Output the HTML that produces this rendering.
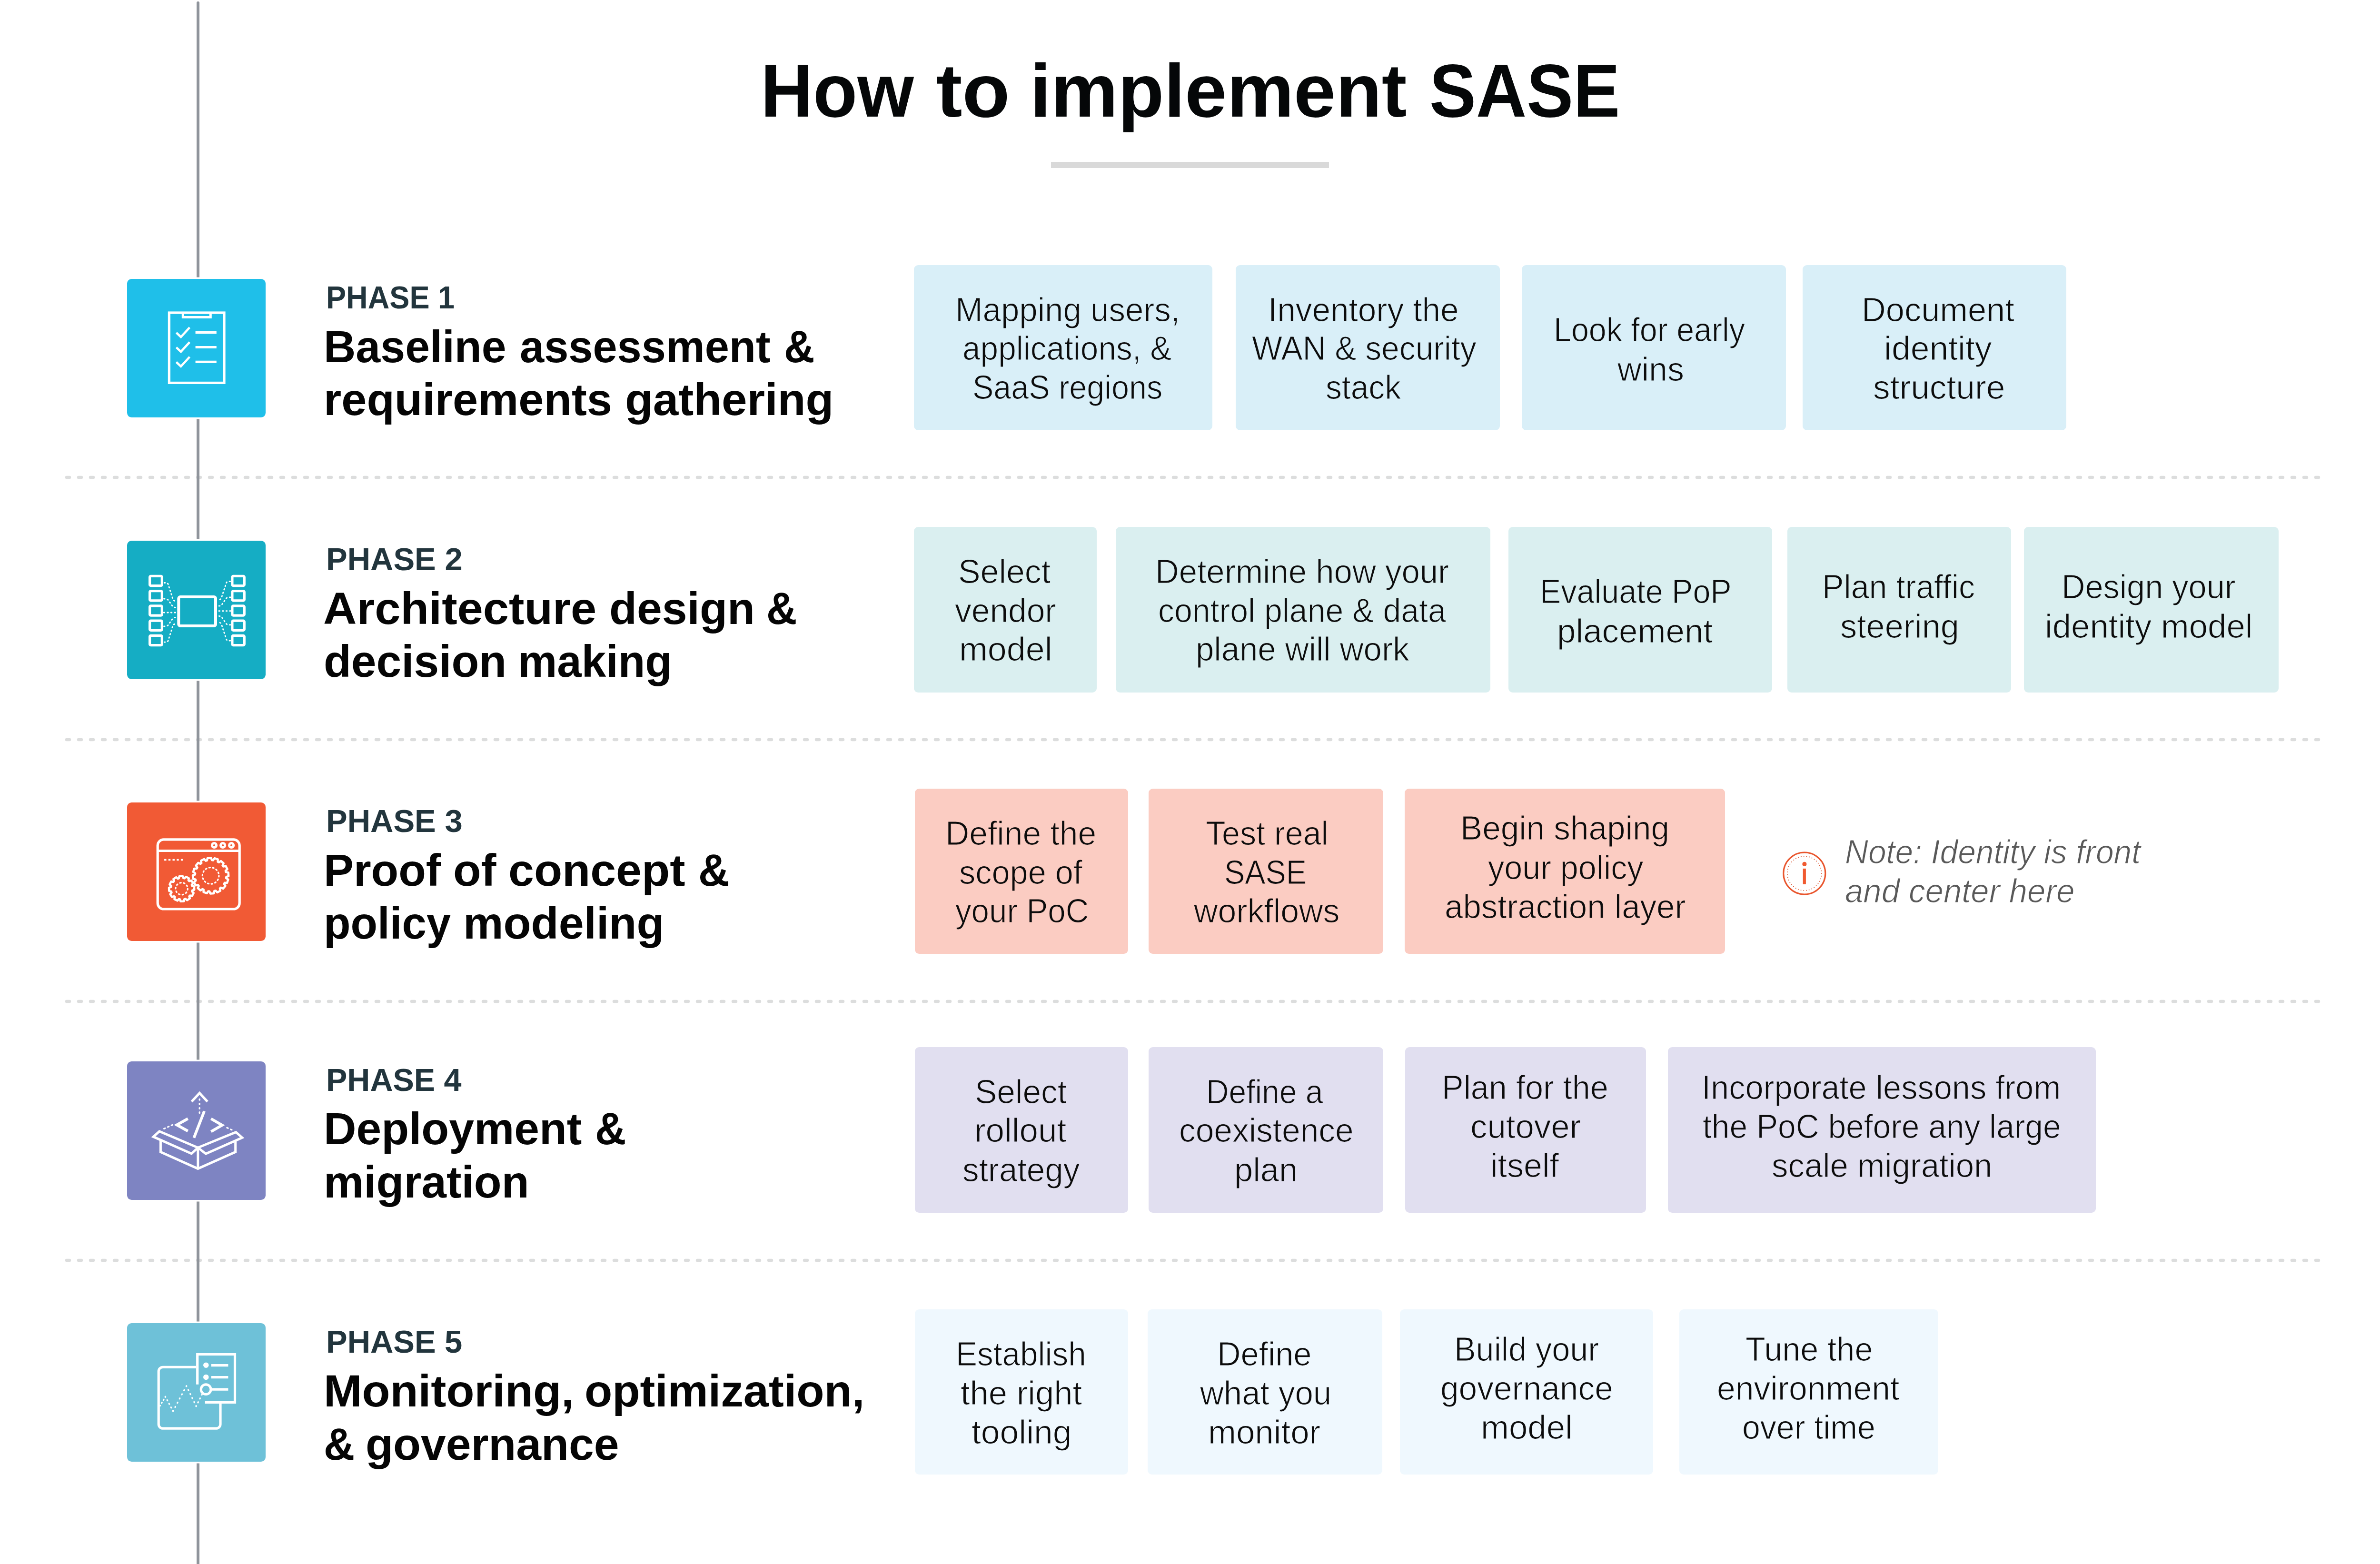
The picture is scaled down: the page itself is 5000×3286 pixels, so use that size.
<!DOCTYPE html><html lang="en"><head><meta charset="utf-8"><title>How to implement SASE</title>
<style>
html,body{margin:0;padding:0;background:#fff}body{width:5000px;height:3286px;position:relative;overflow:hidden;font-family:"Liberation Sans", sans-serif}
.t{position:absolute;white-space:nowrap;line-height:1;margin:0;font-kerning:normal;transform-origin:0 0}
.vl{position:absolute;left:413.3px;width:5.8px;background:#8f949b}
.box{position:absolute;left:266.5px;width:291.2px;height:291.2px;border-radius:9.5px;box-shadow:0 0 0 3.5px #fff}
.card{position:absolute;border-radius:9px}
.sep{position:absolute;left:0;width:5000px;height:12px}
svg{position:absolute;overflow:visible}
.title{font-size:157.5px;font-weight:bold;font-style:normal;color:#050708}
.phase{font-size:67.2px;font-weight:bold;font-style:normal;color:#22353d}
.head{font-size:93.8px;font-weight:bold;font-style:normal;color:#050505}
.ct{font-size:70.2px;font-weight:normal;font-style:normal;color:#0c0c0c}
.note{font-size:70.2px;font-weight:normal;font-style:italic;color:#595959}
</style></head><body>
<svg class="sep" style="top:997px" width="5000" height="12" viewBox="0 0 5000 12"><line x1="140" y1="6" x2="4871.5" y2="6" stroke="#dcdddd" stroke-width="6.4" stroke-linecap="round" stroke-dasharray="6 19"/></svg>
<svg class="sep" style="top:1548px" width="5000" height="12" viewBox="0 0 5000 12"><line x1="140" y1="6" x2="4871.5" y2="6" stroke="#dcdddd" stroke-width="6.4" stroke-linecap="round" stroke-dasharray="6 19"/></svg>
<svg class="sep" style="top:2098.4px" width="5000" height="12" viewBox="0 0 5000 12"><line x1="140" y1="6" x2="4871.5" y2="6" stroke="#dcdddd" stroke-width="6.4" stroke-linecap="round" stroke-dasharray="6 19"/></svg>
<svg class="sep" style="top:2641.6px" width="5000" height="12" viewBox="0 0 5000 12"><line x1="140" y1="6" x2="4871.5" y2="6" stroke="#dcdddd" stroke-width="6.4" stroke-linecap="round" stroke-dasharray="6 19"/></svg>
<div class="vl" style="top:3px;height:3283px;border-radius:3px 3px 0 0"></div>
<div style="position:absolute;left:2208px;top:340px;width:584px;height:12.5px;background:#d9d9d9"></div>
<div class="box" style="top:585.8px;background:#1fbfe9"><svg style="left:0.5px;top:0" width="291" height="291" viewBox="0 0 291 291" fill="none" stroke="#fff"><rect x="88.4" y="71" width="115.6" height="147.4" stroke-width="5.2"/><path d="M117.3 70 V80.6 H175.3 V70" stroke-width="5"/><path d="M103.4 113.0 L113.0 122.0 L131.4 102.0" stroke-width="4.6"/><path d="M143.6 112.6 H187.8" stroke-width="5.2"/><path d="M103.4 143.9 L113.0 152.9 L131.4 132.9" stroke-width="4.6"/><path d="M143.6 143.5 H187.8" stroke-width="5.2"/><path d="M103.4 174.8 L113.0 183.8 L131.4 163.8" stroke-width="4.6"/><path d="M143.6 174.4 H187.8" stroke-width="5.2"/></svg></div>
<div class="box" style="top:1135.8px;background:#15adc4"><svg style="left:0.5px;top:0" width="291" height="291" viewBox="0 0 291 291" fill="none" stroke="#fff"><rect x="47.6" y="74.40" width="25.7" height="20.2" rx="2.2" stroke-width="5.2"/><rect x="220.9" y="74.40" width="25.4" height="20.2" rx="2.2" stroke-width="5.2"/><rect x="47.6" y="105.65" width="25.7" height="20.2" rx="2.2" stroke-width="5.2"/><rect x="220.9" y="105.65" width="25.4" height="20.2" rx="2.2" stroke-width="5.2"/><rect x="47.6" y="136.90" width="25.7" height="20.2" rx="2.2" stroke-width="5.2"/><rect x="220.9" y="136.90" width="25.4" height="20.2" rx="2.2" stroke-width="5.2"/><rect x="47.6" y="168.15" width="25.7" height="20.2" rx="2.2" stroke-width="5.2"/><rect x="220.9" y="168.15" width="25.4" height="20.2" rx="2.2" stroke-width="5.2"/><rect x="47.6" y="199.40" width="25.7" height="20.2" rx="2.2" stroke-width="5.2"/><rect x="220.9" y="199.40" width="25.4" height="20.2" rx="2.2" stroke-width="5.2"/><rect x="108.3" y="118.1" width="77.7" height="60.8" rx="3.4" stroke-width="6"/><path d="M78.1 88.5 H81.30 Q85.30 88.50 86.51 92.31 L96.19 122.69 Q97.40 126.50 101.40 126.50 H103 M77.4 122.2 H80.60 Q84.60 122.20 86.90 125.47 L95.10 137.13 Q97.40 140.40 101.40 140.40 H103 M77 151 H103 M77.4 179.8 H80.60 Q84.60 179.80 86.88 176.51 L95.12 164.59 Q97.40 161.30 101.40 161.30 H103 M78.1 213.1 H81.30 Q85.30 213.10 86.51 209.29 L96.19 178.91 Q97.40 175.10 101.40 175.10 H103 M216.7 85.5 H213.50 Q209.50 85.50 208.25 89.30 L198.25 119.80 Q197.00 123.60 193.00 123.60 H191.4 M217 118.9 H213.80 Q209.80 118.90 207.51 122.18 L199.29 133.92 Q197.00 137.20 193.00 137.20 H191.4 M217.4 147.7 H191.4 M217 176.8 H213.80 Q209.80 176.80 207.52 173.51 L199.28 161.59 Q197.00 158.30 193.00 158.30 H191.4 M216.7 210.2 H213.50 Q209.50 210.20 208.26 206.40 L198.24 175.70 Q197.00 171.90 193.00 171.90 H191.4" stroke-width="2.8" stroke-linecap="round" stroke-dasharray="1.7 5.9"/></svg></div>
<div class="box" style="top:1685.8px;background:#f15a35"><svg style="left:0.5px;top:0" width="291" height="291" viewBox="0 0 291 291" fill="none" stroke="#fff"><rect x="64.2" y="77.9" width="172" height="146.1" rx="12.5" stroke-width="5.2"/><path d="M64.2 101.5 H236.2" stroke-width="5.2"/><circle cx="183" cy="90" r="4.6" stroke-width="5"/><circle cx="201.1" cy="90" r="4.6" stroke-width="5"/><circle cx="219.1" cy="90" r="4.6" stroke-width="5"/><path d="M78.1 120.5 H117.3" stroke-width="3.4" stroke-dasharray="4.4 4.3"/><path d="M167.87 121.92 L168.94 116.90 L176.28 116.31 L178.13 121.10 L180.70 121.40 L183.60 117.16 L190.62 119.43 L190.49 124.56 L192.75 125.82 L197.05 123.02 L202.67 127.80 L200.59 132.50 L202.19 134.52 L207.24 133.58 L210.59 140.14 L206.87 143.69 L207.58 146.17 L212.60 147.24 L213.19 154.58 L208.40 156.43 L208.10 159.00 L212.34 161.90 L210.07 168.92 L204.94 168.79 L203.68 171.05 L206.48 175.35 L201.70 180.97 L197.00 178.89 L194.98 180.49 L195.92 185.54 L189.36 188.89 L185.81 185.17 L183.33 185.88 L182.26 190.90 L174.92 191.49 L173.07 186.70 L170.50 186.40 L167.60 190.64 L160.58 188.37 L160.71 183.24 L158.45 181.98 L154.15 184.78 L148.53 180.00 L150.61 175.30 L149.01 173.28 L143.96 174.22 L140.61 167.66 L144.33 164.11 L143.62 161.63 L138.60 160.56 L138.01 153.22 L142.80 151.37 L143.10 148.80 L138.86 145.90 L141.13 138.88 L146.26 139.01 L147.52 136.75 L144.72 132.45 L149.50 126.83 L154.20 128.91 L156.22 127.31 L155.28 122.26 L161.84 118.91 L165.39 122.63Z" stroke-width="4.5" stroke-linejoin="round"/><circle cx="175.6" cy="153.9" r="17.3" stroke-width="3.2" stroke-linecap="round" stroke-dasharray="2.2 5.56"/><path d="M108.80 159.36 L109.80 154.94 L116.76 154.59 L118.19 158.89 L120.50 159.38 L123.57 156.05 L129.77 159.23 L128.86 163.67 L130.62 165.26 L134.94 163.91 L138.73 169.76 L135.72 173.15 L136.44 175.40 L140.86 176.40 L141.21 183.36 L136.91 184.79 L136.42 187.10 L139.75 190.17 L136.57 196.37 L132.13 195.46 L130.54 197.22 L131.89 201.54 L126.04 205.33 L122.65 202.32 L120.40 203.04 L119.40 207.46 L112.44 207.81 L111.01 203.51 L108.70 203.02 L105.63 206.35 L99.43 203.17 L100.34 198.73 L98.58 197.14 L94.26 198.49 L90.47 192.64 L93.48 189.25 L92.76 187.00 L88.34 186.00 L87.99 179.04 L92.29 177.61 L92.78 175.30 L89.45 172.23 L92.63 166.03 L97.07 166.94 L98.66 165.18 L97.31 160.86 L103.16 157.07 L106.55 160.08Z" stroke-width="4.5" stroke-linejoin="round"/><circle cx="114.6" cy="181.2" r="12.7" stroke-width="3.2" stroke-linecap="round" stroke-dasharray="2.2 5.78"/></svg></div>
<div class="box" style="top:2229.7px;background:#7e84c2"><svg style="left:0.5px;top:0" width="291" height="291" viewBox="0 0 291 291" fill="none" stroke="#fff"><path d="M135.6 84.4 L152.2 66.6 L168.8 84.4" stroke-width="5.2"/><path d="M152.2 79.5 V110" stroke-width="3.4" stroke-linecap="round" stroke-dasharray="1.6 7.5"/><path d="M127.7 120.4 L104.4 133.4 L127.7 146.4" stroke-width="5.8"/><path d="M176.4 120.4 L199.7 133.9 L176.4 147.4" stroke-width="5.8"/><path d="M162.2 104.5 L140.4 160.6" stroke-width="5.8"/><path d="M95.6 133.3 L75 142.6" stroke-width="3.2" stroke-linecap="round" stroke-dasharray="2.6 6"/><path d="M209.8 139.3 L222 144.8" stroke-width="3.2" stroke-linecap="round" stroke-dasharray="2.6 6"/><path d="M148.8 181.2 L67.8 147 L55.2 158.4 L135.3 193.9 Z" stroke-width="5" stroke-linejoin="miter"/><path d="M148.8 181.2 L228.6 148.6 L241.8 160.2 L165.4 194.1 Z" stroke-width="5" stroke-linejoin="miter"/><path d="M70.4 166 V190.3 L148.8 225.4 L227.7 190.3 V166.5" stroke-width="5" stroke-linejoin="miter"/><path d="M148.8 181 V225.4" stroke-width="5"/></svg></div>
<div class="box" style="top:2779.9px;background:#6ec1d8"><svg style="left:0.5px;top:0" width="291" height="291" viewBox="0 0 291 291" fill="none" stroke="#fff"><path d="M145.1 92.3 H75.2 A9 9 0 0 0 66.2 101.3 V212.2 A9 9 0 0 0 75.2 221.2 H187 A9 9 0 0 0 196 212.2 V168.5" stroke-width="5.2"/><path d="M147.7 128.8 V65.5 H226.5 V166.5 H163.7" stroke-width="5.2"/><circle cx="165.8" cy="88.2" r="5.75" fill="#fff" stroke="none"/><circle cx="165.8" cy="113.4" r="5.75" fill="#fff" stroke="none"/><circle cx="165.6" cy="139.2" r="10.35" stroke-width="5.1"/><path d="M176.7 88.6 H212.4 M176.7 113.6 H212.4 M176 139.2 H212.4" stroke-width="5.2"/><path d="M69.1 173.7 L80.4 154.5" stroke-width="3.2" stroke-linecap="round" stroke-dasharray="1.3 6.126" stroke-dashoffset="0.65"/><path d="M80.4 154.5 L96.5 184.7" stroke-width="3.2" stroke-linecap="round" stroke-dasharray="1.3 7.256" stroke-dashoffset="0.65"/><path d="M96.5 184.7 L124.6 131.9" stroke-width="3.2" stroke-linecap="round" stroke-dasharray="1.3 8.669" stroke-dashoffset="0.65"/><path d="M124.6 131.9 L145.1 174.5" stroke-width="3.2" stroke-linecap="round" stroke-dasharray="1.3 8.155" stroke-dashoffset="0.65"/><path d="M145.1 174.5 L157.2 150.1" stroke-width="3.2" stroke-linecap="round" stroke-dasharray="1.3 7.778" stroke-dashoffset="0.65"/></svg></div>
<div class="card" style="left:1920px;top:557px;width:627px;height:347px;background:#d9eff8"></div>
<div class="card" style="left:2596px;top:557px;width:555px;height:347px;background:#d9eff8"></div>
<div class="card" style="left:3197px;top:557px;width:555px;height:347px;background:#d9eff8"></div>
<div class="card" style="left:3787px;top:557px;width:554px;height:347px;background:#d9eff8"></div>
<div class="card" style="left:1920px;top:1107px;width:384px;height:347.5px;background:#daeff0"></div>
<div class="card" style="left:2344px;top:1107px;width:787px;height:347.5px;background:#daeff0"></div>
<div class="card" style="left:3168.5px;top:1107px;width:554.0px;height:347.5px;background:#daeff0"></div>
<div class="card" style="left:3755px;top:1107px;width:469.5px;height:347.5px;background:#daeff0"></div>
<div class="card" style="left:4252px;top:1107px;width:534.5px;height:347.5px;background:#daeff0"></div>
<div class="card" style="left:1921.5px;top:1656.5px;width:448.5px;height:347.5px;background:#fbccc2"></div>
<div class="card" style="left:2413px;top:1656.5px;width:493px;height:347.5px;background:#fbccc2"></div>
<div class="card" style="left:2951px;top:1656.5px;width:673px;height:347.5px;background:#fbccc2"></div>
<div class="card" style="left:1922px;top:2200.3px;width:448px;height:347.6999999999998px;background:#e1dff0"></div>
<div class="card" style="left:2413px;top:2200.3px;width:493px;height:347.6999999999998px;background:#e1dff0"></div>
<div class="card" style="left:2951.8px;top:2200.3px;width:506.1999999999998px;height:347.6999999999998px;background:#e1dff0"></div>
<div class="card" style="left:3504.4px;top:2200.3px;width:898.5999999999999px;height:347.6999999999998px;background:#e1dff0"></div>
<div class="card" style="left:1922px;top:2750.6px;width:448px;height:347.7000000000003px;background:#eff8fe"></div>
<div class="card" style="left:2410.5px;top:2750.6px;width:493.0px;height:347.7000000000003px;background:#eff8fe"></div>
<div class="card" style="left:2941px;top:2750.6px;width:532px;height:347.7000000000003px;background:#eff8fe"></div>
<div class="card" style="left:3528px;top:2750.6px;width:544px;height:347.7000000000003px;background:#eff8fe"></div>
<svg style="left:3740px;top:1784px" width="102" height="102" viewBox="0 0 102 102"><circle cx="50.8" cy="51" r="44" fill="none" stroke="#e9562e" stroke-width="3.1"/><circle cx="50.8" cy="51" r="36" fill="none" stroke="#d9532f" stroke-width="1.9" stroke-dasharray="0.01 5.79" stroke-linecap="round"/><circle cx="50.9" cy="31.4" r="4.6" fill="#f05a30"/><rect x="47.7" y="40.9" width="6.2" height="32.8" fill="#f05a30"/></svg>
<div class="title">
<span class="t" style="left:1597.92px;top:112.30px;transform:scaleX(0.9680)">How</span> 
<span class="t" style="left:1966.96px;top:112.30px;transform:scaleX(1.0390)">to</span> 
<span class="t" style="left:2163.75px;top:112.30px;transform:scaleX(1.0049)">implement</span> 
<span class="t" style="left:3002.97px;top:112.30px;transform:scaleX(0.9330)">SASE</span>
</div>
<div class="t phase" style="left:684.74px;top:591.20px;transform:scaleX(0.9396)">PHASE 1</div>
<div class="head">
<span class="t" style="left:680.43px;top:681.70px;transform:scaleX(0.9946)">Baseline</span> 
<span class="t" style="left:1091.94px;top:681.70px;transform:scaleX(0.9805)">assessment</span> 
<span class="t" style="left:1647.20px;top:681.70px;transform:scaleX(0.9508)">&amp;</span>
</div>
<div class="head">
<span class="t" style="left:680.28px;top:793.40px;transform:scaleX(1.0197)">requirements</span> 
<span class="t" style="left:1312.62px;top:793.40px;transform:scaleX(1.0255)">gathering</span>
</div>
<div class="t phase" style="left:684.51px;top:1141.20px;transform:scaleX(0.9970)">PHASE 2</div>
<div class="head">
<span class="t" style="left:679.32px;top:1231.70px;transform:scaleX(1.0392)">Architecture</span> 
<span class="t" style="left:1279.96px;top:1231.70px;transform:scaleX(1.0120)">design</span> 
<span class="t" style="left:1609.50px;top:1231.70px;transform:scaleX(0.9508)">&amp;</span>
</div>
<div class="head">
<span class="t" style="left:679.87px;top:1343.40px;transform:scaleX(1.0094)">decision</span> 
<span class="t" style="left:1087.98px;top:1343.40px;transform:scaleX(0.9859)">making</span>
</div>
<div class="t phase" style="left:684.51px;top:1691.20px;transform:scaleX(0.9970)">PHASE 3</div>
<div class="head">
<span class="t" style="left:680.37px;top:1781.70px;transform:scaleX(1.0056)">Proof</span> 
<span class="t" style="left:952.13px;top:1781.70px;transform:scaleX(1.0221)">of</span> 
<span class="t" style="left:1068.10px;top:1781.70px;transform:scaleX(1.0329)">concept</span> 
<span class="t" style="left:1467.13px;top:1781.70px;transform:scaleX(0.9672)">&amp;</span>
</div>
<div class="head">
<span class="t" style="left:680.48px;top:1893.40px;transform:scaleX(0.9861)">policy</span> 
<span class="t" style="left:972.82px;top:1893.40px;transform:scaleX(1.0134)">modeling</span>
</div>
<div class="t phase" style="left:684.54px;top:2234.90px;transform:scaleX(0.9899)">PHASE 4</div>
<div class="head">
<span class="t" style="left:680.34px;top:2325.40px;transform:scaleX(1.0104)">Deployment</span> 
<span class="t" style="left:1250.33px;top:2325.40px;transform:scaleX(0.9672)">&amp;</span>
</div>
<div class="head">
<span class="t" style="left:680.34px;top:2437.10px;transform:scaleX(1.0098)">migration</span>
</div>
<div class="t phase" style="left:684.52px;top:2785.30px;transform:scaleX(0.9959)">PHASE 5</div>
<div class="head">
<span class="t" style="left:680.22px;top:2875.80px;transform:scaleX(1.0300)">Monitoring,</span> 
<span class="t" style="left:1227.95px;top:2875.80px;transform:scaleX(1.0171)">optimization,</span>
</div>
<div class="head">
<span class="t" style="left:680.05px;top:2987.50px;transform:scaleX(0.9623)">&amp;</span> 
<span class="t" style="left:767.87px;top:2987.50px;transform:scaleX(1.0113)">governance</span>
</div>
<div class="t ct" style="left:2007.18px;top:615.60px;transform:scaleX(0.9837);-webkit-text-stroke:1.2px #d9eff8">Mapping users,</div>
<div class="t ct" style="left:2022.18px;top:697.00px;transform:scaleX(0.9624);-webkit-text-stroke:1.2px #d9eff8">applications, &amp;</div>
<div class="t ct" style="left:2043.16px;top:778.50px;transform:scaleX(0.9476);-webkit-text-stroke:1.2px #d9eff8">SaaS regions</div>
<div class="t ct" style="left:2663.88px;top:615.60px;transform:scaleX(0.9873);-webkit-text-stroke:1.2px #d9eff8">Inventory the</div>
<div class="t ct" style="left:2630.40px;top:697.00px;transform:scaleX(0.9648);-webkit-text-stroke:1.2px #d9eff8">WAN &amp; security</div>
<div class="t ct" style="left:2785.13px;top:778.50px;transform:scaleX(0.9650);-webkit-text-stroke:1.2px #d9eff8">stack</div>
<div class="t ct" style="left:3263.97px;top:657.60px;transform:scaleX(0.9454);-webkit-text-stroke:1.2px #d9eff8">Look for early</div>
<div class="t ct" style="left:3398.10px;top:740.70px;transform:scaleX(0.9963);-webkit-text-stroke:1.2px #d9eff8">wins</div>
<div class="t ct" style="left:3910.99px;top:615.60px;transform:scaleX(1.0029);-webkit-text-stroke:1.2px #d9eff8">Document</div>
<div class="t ct" style="left:3958.32px;top:697.00px;transform:scaleX(1.0188);-webkit-text-stroke:1.2px #d9eff8">identity</div>
<div class="t ct" style="left:3935.18px;top:778.50px;transform:scaleX(1.0156);-webkit-text-stroke:1.2px #d9eff8">structure</div>
<div class="t ct" style="left:2013.01px;top:1165.60px;transform:scaleX(0.9955);-webkit-text-stroke:1.2px #daeff0">Select</div>
<div class="t ct" style="left:2006.10px;top:1247.50px;transform:scaleX(0.9900);-webkit-text-stroke:1.2px #daeff0">vendor</div>
<div class="t ct" style="left:2014.61px;top:1329.40px;transform:scaleX(1.0237);-webkit-text-stroke:1.2px #daeff0">model</div>
<div class="t ct" style="left:2427.29px;top:1165.60px;transform:scaleX(0.9825);-webkit-text-stroke:1.2px #daeff0">Determine how your</div>
<div class="t ct" style="left:2432.96px;top:1247.50px;transform:scaleX(0.9686);-webkit-text-stroke:1.2px #daeff0">control plane &amp; data</div>
<div class="t ct" style="left:2511.77px;top:1329.40px;transform:scaleX(0.9824);-webkit-text-stroke:1.2px #daeff0">plane will work</div>
<div class="t ct" style="left:3234.57px;top:1207.60px;transform:scaleX(0.9468);-webkit-text-stroke:1.2px #daeff0">Evaluate PoP</div>
<div class="t ct" style="left:3270.86px;top:1290.80px;transform:scaleX(1.0102);-webkit-text-stroke:1.2px #daeff0">placement</div>
<div class="t ct" style="left:3828.14px;top:1197.80px;transform:scaleX(0.9719);-webkit-text-stroke:1.2px #daeff0">Plan traffic</div>
<div class="t ct" style="left:3866.10px;top:1281.00px;transform:scaleX(1.0001);-webkit-text-stroke:1.2px #daeff0">steering</div>
<div class="t ct" style="left:4331.12px;top:1197.80px;transform:scaleX(0.9763);-webkit-text-stroke:1.2px #daeff0">Design your</div>
<div class="t ct" style="left:4296.37px;top:1281.00px;transform:scaleX(1.0079);-webkit-text-stroke:1.2px #daeff0">identity model</div>
<div class="t ct" style="left:1986.35px;top:1716.00px;transform:scaleX(0.9910);-webkit-text-stroke:1.2px #fbccc2">Define the</div>
<div class="t ct" style="left:2014.52px;top:1797.70px;transform:scaleX(0.9757);-webkit-text-stroke:1.2px #fbccc2">scope of</div>
<div class="t ct" style="left:2006.50px;top:1878.60px;transform:scaleX(0.9581);-webkit-text-stroke:1.2px #fbccc2">your PoC</div>
<div class="t ct" style="left:2532.63px;top:1716.00px;transform:scaleX(0.9716);-webkit-text-stroke:1.2px #fbccc2">Test real</div>
<div class="t ct" style="left:2572.43px;top:1797.70px;transform:scaleX(0.9237);-webkit-text-stroke:1.2px #fbccc2">SASE</div>
<div class="t ct" style="left:2508.09px;top:1878.60px;transform:scaleX(0.9944);-webkit-text-stroke:1.2px #fbccc2">workflows</div>
<div class="t ct" style="left:3067.97px;top:1704.70px;transform:scaleX(0.9866);-webkit-text-stroke:1.2px #fbccc2">Begin shaping</div>
<div class="t ct" style="left:3125.80px;top:1787.90px;transform:scaleX(0.9732);-webkit-text-stroke:1.2px #fbccc2">your policy</div>
<div class="t ct" style="left:3034.63px;top:1869.60px;transform:scaleX(0.9834);-webkit-text-stroke:1.2px #fbccc2">abstraction layer</div>
<div class="t ct" style="left:2048.43px;top:2258.50px;transform:scaleX(0.9902);-webkit-text-stroke:1.2px #e1dff0">Select</div>
<div class="t ct" style="left:2047.36px;top:2340.40px;transform:scaleX(1.0104);-webkit-text-stroke:1.2px #e1dff0">rollout</div>
<div class="t ct" style="left:2022.11px;top:2423.40px;transform:scaleX(0.9868);-webkit-text-stroke:1.2px #e1dff0">strategy</div>
<div class="t ct" style="left:2534.01px;top:2258.50px;transform:scaleX(0.9383);-webkit-text-stroke:1.2px #e1dff0">Define a</div>
<div class="t ct" style="left:2476.62px;top:2340.40px;transform:scaleX(0.9893);-webkit-text-stroke:1.2px #e1dff0">coexistence</div>
<div class="t ct" style="left:2592.59px;top:2423.40px;transform:scaleX(1.0035);-webkit-text-stroke:1.2px #e1dff0">plan</div>
<div class="t ct" style="left:3029.03px;top:2249.50px;transform:scaleX(0.9746);-webkit-text-stroke:1.2px #e1dff0">Plan for the</div>
<div class="t ct" style="left:3088.98px;top:2331.50px;transform:scaleX(1.0088);-webkit-text-stroke:1.2px #e1dff0">cutover</div>
<div class="t ct" style="left:3130.71px;top:2413.50px;transform:scaleX(0.9970);-webkit-text-stroke:1.2px #e1dff0">itself</div>
<div class="t ct" style="left:3574.54px;top:2249.50px;transform:scaleX(0.9766);-webkit-text-stroke:1.2px #e1dff0">Incorporate lessons from</div>
<div class="t ct" style="left:3577.44px;top:2331.50px;transform:scaleX(0.9645);-webkit-text-stroke:1.2px #e1dff0">the PoC before any large</div>
<div class="t ct" style="left:3721.92px;top:2413.50px;transform:scaleX(0.9816);-webkit-text-stroke:1.2px #e1dff0">scale migration</div>
<div class="t ct" style="left:2008.40px;top:2809.60px;transform:scaleX(0.9610);-webkit-text-stroke:1.2px #eff8fe">Establish</div>
<div class="t ct" style="left:2017.69px;top:2891.50px;transform:scaleX(1.0055);-webkit-text-stroke:1.2px #eff8fe">the right</div>
<div class="t ct" style="left:2041.18px;top:2974.00px;transform:scaleX(1.0179);-webkit-text-stroke:1.2px #eff8fe">tooling</div>
<div class="t ct" style="left:2557.31px;top:2809.60px;transform:scaleX(0.9787);-webkit-text-stroke:1.2px #eff8fe">Define</div>
<div class="t ct" style="left:2520.58px;top:2891.50px;transform:scaleX(0.9831);-webkit-text-stroke:1.2px #eff8fe">what you</div>
<div class="t ct" style="left:2537.86px;top:2974.00px;transform:scaleX(1.0089);-webkit-text-stroke:1.2px #eff8fe">monitor</div>
<div class="t ct" style="left:3054.53px;top:2800.30px;transform:scaleX(0.9745);-webkit-text-stroke:1.2px #eff8fe">Build your</div>
<div class="t ct" style="left:3025.82px;top:2882.20px;transform:scaleX(0.9890);-webkit-text-stroke:1.2px #eff8fe">governance</div>
<div class="t ct" style="left:3111.17px;top:2964.10px;transform:scaleX(1.0084);-webkit-text-stroke:1.2px #eff8fe">model</div>
<div class="t ct" style="left:3667.43px;top:2800.30px;transform:scaleX(0.9744);-webkit-text-stroke:1.2px #eff8fe">Tune the</div>
<div class="t ct" style="left:3607.41px;top:2882.20px;transform:scaleX(0.9926);-webkit-text-stroke:1.2px #eff8fe">environment</div>
<div class="t ct" style="left:3660.46px;top:2964.10px;transform:scaleX(0.9693);-webkit-text-stroke:1.2px #eff8fe">over time</div>
<div class="t note" style="left:3876.17px;top:1755.00px;transform:scaleX(0.9648);-webkit-text-stroke:1.2px #fff">Note: Identity is front</div>
<div class="t note" style="left:3875.92px;top:1837.30px;transform:scaleX(0.9817);-webkit-text-stroke:1.2px #fff">and center here</div>
</body></html>
